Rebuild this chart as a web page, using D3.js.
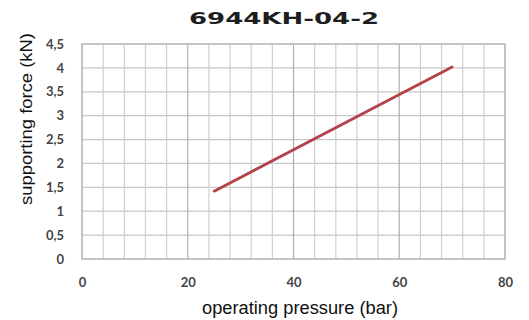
<!DOCTYPE html>
<html><head><meta charset="utf-8">
<script src="https://cdn.jsdelivr.net/npm/d3@7"></script>
<style>html,body{margin:0;padding:0;background:#fff;}svg{display:block;}</style>
</head><body>
<script>
const title = "6944KH-04-2";
const xLabel = "operating pressure (bar)";
const yLabel = "supporting force (kN)";
const xTicks = [0, 20, 40, 60, 80];
const yTicks = [0, 0.5, 1, 1.5, 2, 2.5, 3, 3.5, 4, 4.5];
const yTickLabels = ["0", "0,5", "1", "1,5", "2", "2,5", "3", "3,5", "4", "4,5"];
const xGrid = d3.range(0, 81, 4);
const pressure = [25, 70];
const force = [1.42, 4.02];

const W = 529, H = 320;
const svg = d3.select("body").append("svg").attr("width", W).attr("height", H);
const x = d3.scaleLinear().domain([0, 80]).range([82, 505]);
const y = d3.scaleLinear().domain([0, 4.5]).range([259, 44]);

// grid
svg.append("g").selectAll("line").data(yTicks).join("line")
  .attr("x1", x(0)).attr("x2", x(80))
  .attr("y1", d => y(d)).attr("y2", d => y(d))
  .attr("stroke", "#c8c8c8").attr("stroke-width", 1.2);
svg.append("g").selectAll("line").data(xGrid).join("line")
  .attr("x1", d => x(d)).attr("x2", d => x(d))
  .attr("y1", y(0)).attr("y2", y(4.5))
  .attr("stroke", d => d % 20 === 0 && d > 0 && d < 80 ? "#b0b0b0" : "#cfcfcf")
  .attr("stroke-width", 1.2);
svg.append("rect").attr("x", x(0)).attr("y", y(4.5))
  .attr("width", x(80) - x(0)).attr("height", y(0) - y(4.5))
  .attr("fill", "none").attr("stroke", "#b8b8b8").attr("stroke-width", 1.4);

// axes labels via d3 axes
const xAxis = svg.append("g").attr("transform", `translate(0,${y(0)})`)
  .call(d3.axisBottom(x).tickValues(xTicks).tickSize(0).tickPadding(19));
const yAxis = svg.append("g").attr("transform", `translate(${x(0)},0)`)
  .call(d3.axisLeft(y).tickValues(yTicks).tickSize(0).tickPadding(18)
    .tickFormat((d, i) => yTickLabels[i]));
[xAxis, yAxis].forEach(g => {
  g.select(".domain").remove();
  g.selectAll("text").attr("font-family", "Lato, 'Open Sans', sans-serif")
    .attr("font-weight", "bold").attr("font-size", 13).attr("fill", "#444");
});

// line
svg.append("path")
  .datum(pressure.map((p, i) => [p, force[i]]))
  .attr("d", d3.line().x(d => x(d[0])).y(d => y(d[1])))
  .attr("fill", "none").attr("stroke", "#b2434b").attr("stroke-width", 2.8)
  .attr("stroke-linecap", "round");

// title
svg.append("text").attr("x", 284).attr("y", 24).attr("text-anchor", "middle")
  .attr("font-family", "'DejaVu Sans', sans-serif").attr("font-weight", "bold")
  .attr("font-size", 15).attr("fill", "#1e1e1e")
  .attr("textLength", 190).attr("lengthAdjust", "spacingAndGlyphs")
  .text(title);

// axis titles
svg.append("text").attr("x", 300).attr("y", 314).attr("text-anchor", "middle")
  .attr("font-family", "'Liberation Sans', Arial, sans-serif")
  .attr("font-size", 17.5).attr("fill", "#111")
  .attr("textLength", 196).attr("lengthAdjust", "spacingAndGlyphs")
  .text(xLabel);
svg.append("text").attr("transform", "translate(32,119) rotate(-90)")
  .attr("text-anchor", "middle")
  .attr("font-family", "'Liberation Sans', Arial, sans-serif")
  .attr("font-size", 16).attr("fill", "#111")
  .attr("textLength", 172).attr("lengthAdjust", "spacingAndGlyphs")
  .text(yLabel);
</script>
</body></html>
